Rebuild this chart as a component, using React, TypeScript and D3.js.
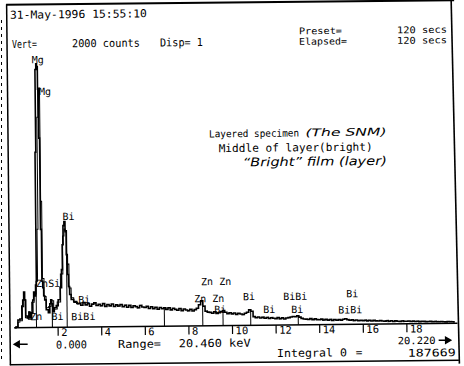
import React from "react";
import * as d3 from "d3";

// ---- Spectrum data (keV, counts) ----
const lowEnergy = [0, 0.14, 0.18, 0.32, 0.37, 0.41, 0.46, 0.5, 0.55, 0.64, 0.69, 0.73, 0.83, 0.87, 0.92, 0.96, 1.01, 1.04, 1.08, 1.12, 1.15, 1.19, 1.22, 1.26, 1.3, 1.33, 1.38, 1.42, 1.51, 1.61, 1.65, 1.7, 1.74, 1.79, 1.88, 1.97, 2.06, 2.16, 2.2, 2.25, 2.29, 2.34, 2.39, 2.43, 2.48, 2.52, 2.57, 2.66, 2.8, 2.94];
const lowCounts = [0, 5, 55, 62, 155, 197, 254, 197, 83, 69, 112, 69, 105, 197, 254, 226, 304, 1250, 1840, 1880, 1860, 1700, 1350, 700, 330, 283, 226, 197, 126, 105, 169, 197, 169, 112, 140, 155, 197, 283, 411, 589, 725, 753, 682, 518, 376, 290, 233, 197, 183, 169];

// continuum channels 3.0 .. 20.2 keV every 0.1 keV
const contStart = 3.0;
const contStep = 0.1;
const contCounts = [
  168, 156, 174, 158, 166, 148, 163, 172, 153, 161,
  150, 166, 146, 159, 149, 162, 144, 156, 147, 158,
  142, 153, 138, 151, 136, 148, 142, 133, 150, 139,
  135, 143, 128, 140, 126, 136, 122, 134, 125, 132,
  120, 131, 116, 127, 119, 113, 125, 110, 121, 114,
  108, 119, 106, 116, 125, 150, 178, 140, 104, 97,
  95, 89, 99, 87, 93, 101, 108, 95, 85, 91,
  83, 89, 79, 87, 81, 77, 86, 94, 110, 100,
  62, 54, 59, 51, 57, 49, 55, 47, 53, 49,
  46, 53, 44, 51, 43, 49, 52, 56, 60, 58,
  64, 55, 46, 41, 40, 37, 43, 35, 41, 36,
  35, 39, 32, 37, 31, 36, 29, 35, 30, 34,
  30, 36, 40, 33, 29, 31, 26, 30, 25, 28,
  25, 28, 23, 27, 22, 26, 22, 21, 24, 21,
  20, 23, 18, 22, 17, 21, 18, 17, 20, 17,
  17, 19, 15, 18, 15, 17, 13, 16, 15, 13,
  14, 15, 12, 14, 12, 11, 13, 11, 10, 12,
  11, 10, 9,
];

// overlay (second) spectrum, low-energy part
const overEnergy = [0, 0.14, 0.18, 0.32, 0.41, 0.46, 0.55, 0.73, 0.87, 0.96, 1.06, 1.1, 1.15, 1.19, 1.24, 1.28, 1.33, 1.42, 1.51, 1.65, 1.74, 1.88, 2.06, 2.2, 2.29, 2.34, 2.39, 2.48, 2.57, 2.66, 2.8, 3.0];
const overCounts = [0, 5, 40, 50, 150, 200, 70, 60, 180, 240, 330, 700, 1500, 1700, 1707, 900, 350, 220, 140, 150, 190, 130, 180, 380, 650, 700, 690, 450, 280, 210, 175, 165];

// KLM marker lines (keV)
const markerEnergy = [1.01, 1.74, 2.42, 6.88, 8.64, 9.57, 10.84, 13.02];

// element labels
const labelText = ["Mg", "Mg", "ZnSi", "Zn", "Bi", "Bi", "Bi", "BiBi", "Zn Zn", "Zn Zn", "Bi", "Bi", "Bi", "BiBi", "Bi", "Bi", "BiBi"];
const labelEnergy = [0.92, 1.24, 1.01, 0.73, 1.7, 2.25, 2.94, 2.61, 8.58, 8.26, 9.17, 10.5, 11.42, 12.34, 12.7, 15.23, 14.86];
const labelCounts = [1885, 1657, 289, 53, 53, 765, 171, 50, 290, 169, 90, 180, 86, 178, 85, 192, 78];

const xTicks = [2, 4, 6, 8, 10, 12, 14, 16, 18];

const MONO = "DejaVu Sans Mono";

export default function App() {
  const x = d3.scaleLinear().domain([0, 20.46]).range([13, 459]);
  const y = d3.scaleLinear().domain([0, 2000]).range([325.5, 45]);

  const contEnergy = contCounts.map((_, i) => +(contStart + i * contStep).toFixed(2));
  const mainPts: [number, number][] = lowEnergy
    .map((e, i) => [e, lowCounts[i]] as [number, number])
    .concat(contEnergy.map((e, i) => [e, contCounts[i]] as [number, number]));
  const overPts: [number, number][] = overEnergy.map((e, i) => [e, overCounts[i]]);

  const line = d3
    .line<[number, number]>()
    .x((d) => x(d[0]))
    .y((d) => y(d[1]))
    .curve(d3.curveStep);

  const bis = d3.bisector((d: [number, number]) => d[0]).left;
  const valueAt = (e: number) => {
    const i = Math.min(mainPts.length - 1, bis(mainPts, e));
    return mainPts[i][1];
  };

  const base = y(0);

  const txt = (s: string, xx: number, yy: number, len?: number, size = 11) => (
    <text
      x={xx}
      y={yy}
      fontFamily={MONO}
      fontSize={size}
      fill="#000"
      {...(len ? { textLength: len, lengthAdjust: "spacingAndGlyphs" } : {})}
    >
      {s}
    </text>
  );

  return (
    <svg
      width={464}
      height={366}
      viewBox="0 0 464 366"
      style={{ position: "absolute", left: 0, top: 0, display: "block" }}
    >
      <rect width={464} height={366} fill="#fff" />
      <line x1={1.5} y1={20} x2={1.5} y2={362} stroke="#000" strokeWidth={1} strokeDasharray="3 4" />
      <g transform="rotate(-0.6 232 183)">
        {/* frame */}
        <line x1={8} y1={2.5} x2={456} y2={2.5} stroke="#000" strokeWidth={2} />
        <line x1={8.5} y1={2} x2={8.5} y2={363} stroke="#000" strokeWidth={1.5} />
        <line x1={453} y1={-2} x2={457.5} y2={366} stroke="#000" strokeWidth={1.6} />
        <line x1={8} y1={362.5} x2={457} y2={362.5} stroke="#000" strokeWidth={1.5} />

        {/* header */}
        {txt("31-May-1996 15:55:10", 11.7, 16.4, 137)}
        {txt("Vert=", 13.4, 45.7, 25)}
        {txt("2000 counts", 73.4, 45.7, 68)}
        {txt("Disp= 1", 161.4, 45.7, 43)}
        {txt("Preset=", 300.5, 35, 43, 9.3)}
        {txt("120 secs", 398.5, 35, 50, 9.3)}
        {txt("Elapsed=", 300.5, 45.5, 48, 9.3)}
        {txt("120 secs", 398.5, 45.5, 50, 9.3)}

        {/* annotation */}
        {txt("Layered specimen", 209.5, 137.2, 90, 10)}
        <text x={306} y={137} fontFamily="DejaVu Sans" fontStyle="italic" fontSize={10.5} textLength={81} lengthAdjust="spacingAndGlyphs">(The SNM)</text>
        {txt("Middle of layer(bright)", 219, 152, 154)}
        <text x={243} y={166.5} fontFamily="DejaVu Sans" fontStyle="italic" fontSize={12} textLength={144} lengthAdjust="spacingAndGlyphs">{"\u201CBright\u201D film (layer)"}</text>

        {/* markers */}
        {markerEnergy.map((e, i) => (
          <line key={"m" + i} x1={x(e)} x2={x(e)} y1={base} y2={y(valueAt(e))} stroke="#000" strokeWidth={1} />
        ))}

        {/* spectra */}
        <path d={line(overPts) || ""} fill="none" stroke="#000" strokeWidth={1} />
        <path d={line(mainPts) || ""} fill="none" stroke="#000" strokeWidth={1.6} />

        {/* labels */}
        {labelText.map((t, i) => (
          <text key={"l" + i} x={x(labelEnergy[i])} y={y(labelCounts[i])} fontFamily={MONO} fontSize={10} fill="#000">
            {t}
          </text>
        ))}

        {/* axis */}
        <line x1={13} y1={base} x2={456} y2={base} stroke="#000" strokeWidth={1.5} />
        {xTicks.map((t) => (
          <g key={"t" + t}>
            <line x1={x(t)} x2={x(t)} y1={base} y2={base + 8.5} stroke="#000" strokeWidth={1.2} />
            {txt(String(t), x(t) + 3, base + 8.8, undefined, 10.5)}
          </g>
        ))}

        {/* footer */}
        <path d="M12.5 342 L17.5 339 L17.5 345 Z M17 342 H26" stroke="#000" strokeWidth={1.5} fill="#000" />
        {txt("0.000", 54.3, 346.8, 31)}
        {txt("Range=", 116.3, 346.8, 43)}
        {txt("20.460 keV", 177, 346.8, 72)}
        {txt("20.220", 396, 346, 38, 10)}
        <path d="M437 342.5 H445 M449 342.5 L444 339.5 L444 345.5 Z" stroke="#000" strokeWidth={1.5} fill="#000" />
        {txt("Integral 0", 275.2, 357.5, 70)}
        {txt("=", 354, 357.5)}
        {txt("187669", 406, 358.5, 48, 10.5)}
      </g>
    </svg>
  );
}
